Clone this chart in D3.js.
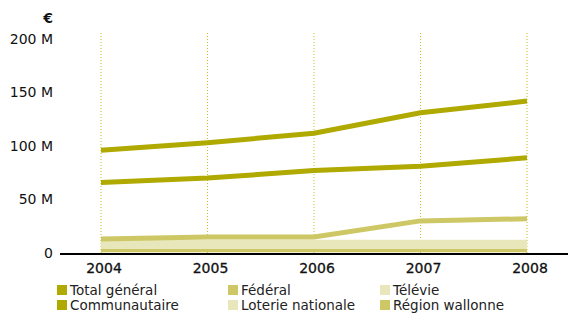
<!DOCTYPE html>
<html>
<head>
<meta charset="utf-8">
<script src="https://cdn.jsdelivr.net/npm/d3@7"></script>
<style>
  body { margin: 0; background: #fff; }
  text { font-family: "DejaVu Sans", sans-serif; }
</style>
</head>
<body>
<div id="chart"></div>
<script>
var WIDTH = 568
var HEIGHT = 315

// data (millions of euros)
var years = ["2004", "2005", "2006", "2007", "2008"]
var seriesNames = ["Total général", "Communautaire", "Fédéral", "Loterie nationale", "Télévie", "Région wallonne"]
var totalGeneral = [96, 103, 112, 131, 142]
var communautaire = [66, 70, 77, 81, 89]
var federal = [13, 15, 15, 30, 32]
var televie = [10, 10, 10, 10, 10]
var loterie = [6, 6, 6, 6, 6]
var regionWallonne = [3, 3, 3, 3, 3]
var yTicks = [0, 50, 100, 150, 200]

var colors = {
  "Total général": "#afa900",
  "Communautaire": "#afa900",
  "Fédéral": "#cdc865",
  "Télévie": "#e7e7bb",
  "Loterie nationale": "#e7e7bb",
  "Région wallonne": "#cdc865"
}
var values = {
  "Total général": totalGeneral,
  "Communautaire": communautaire,
  "Fédéral": federal,
  "Télévie": televie,
  "Loterie nationale": loterie,
  "Région wallonne": regionWallonne
}

var svg = d3.select("#chart").append("svg")
  .attr("width", WIDTH)
  .attr("height", HEIGHT)

var x = d3.scalePoint().domain(years).range([101, 527])
var y = d3.scaleLinear().domain([0, 200]).range([253, 39])

// dotted year lines
svg.selectAll(".vline")
  .data(years)
  .enter()
  .append("line")
  .attr("class", "vline")
  .attr("x1", function(d){ return x(d) })
  .attr("x2", function(d){ return x(d) })
  .attr("y1", 33)
  .attr("y2", 253)
  .attr("stroke", "#c4c020")
  .attr("stroke-width", 1)
  .attr("stroke-dasharray", "1,2")

// y labels
svg.selectAll(".ylab")
  .data(yTicks)
  .enter()
  .append("text")
  .attr("class", "ylab")
  .attr("x", 53)
  .attr("y", function(d){ return y(d) })
  .attr("dy", "0.35em")
  .attr("text-anchor", "end")
  .attr("font-size", 14)
  .attr("fill", "#111")
  .text(function(d){ return d === 0 ? "0" : d + " M" })

svg.append("text")
  .attr("x", 53)
  .attr("y", 18)
  .attr("dy", "0.35em")
  .attr("text-anchor", "end")
  .attr("font-size", 14)
  .attr("font-weight", "bold")
  .attr("fill", "#111")
  .text("€")

var line = d3.line()
  .x(function(d, i){ return x(years[i]) })
  .y(function(d){ return y(d) })

// draw from bottom up so the main lines sit on top
var drawOrder = ["Région wallonne", "Loterie nationale", "Télévie", "Fédéral", "Communautaire", "Total général"]
svg.selectAll(".series")
  .data(drawOrder)
  .enter()
  .append("path")
  .attr("class", "series")
  .attr("d", function(d){ return line(values[d]) })
  .attr("fill", "none")
  .attr("stroke", function(d){ return colors[d] })
  .attr("stroke-width", 5)

// x axis baseline
svg.append("line")
  .attr("x1", 60).attr("x2", 568)
  .attr("y1", 254).attr("y2", 254)
  .attr("stroke", "#000")
  .attr("stroke-width", 2)

svg.selectAll(".xlab")
  .data(years)
  .enter()
  .append("text")
  .attr("class", "xlab")
  .attr("x", function(d){ return x(d) + 3 })
  .attr("y", 268)
  .attr("dy", "0.35em")
  .attr("text-anchor", "middle")
  .attr("font-size", 14)
  .attr("fill", "#111")
  .attr("stroke", "#111")
  .attr("stroke-width", 0.3)
  .text(function(d){ return d })

// legend
var legendItems = [
  {name: "Total général", col: 0, row: 0},
  {name: "Communautaire", col: 0, row: 1},
  {name: "Fédéral", col: 1, row: 0},
  {name: "Loterie nationale", col: 1, row: 1},
  {name: "Télévie", col: 2, row: 0},
  {name: "Région wallonne", col: 2, row: 1}
]
var colX = [57, 228, 380]
var legend = svg.selectAll(".legend")
  .data(legendItems)
  .enter()
  .append("g")
  .attr("class", "legend")
  .attr("transform", function(d){ return "translate(" + colX[d.col] + "," + (290 + d.row * 15) + ")" })

legend.append("rect")
  .attr("x", 0).attr("y", -5)
  .attr("width", 10).attr("height", 10)
  .attr("fill", function(d){ return colors[d.name] })

legend.append("text")
  .attr("x", 13)
  .attr("y", 0)
  .attr("dy", "0.35em")
  .attr("font-size", 13.5)
  .attr("fill", "#222")
  .text(function(d){ return d.name })
</script>
</body>
</html>
